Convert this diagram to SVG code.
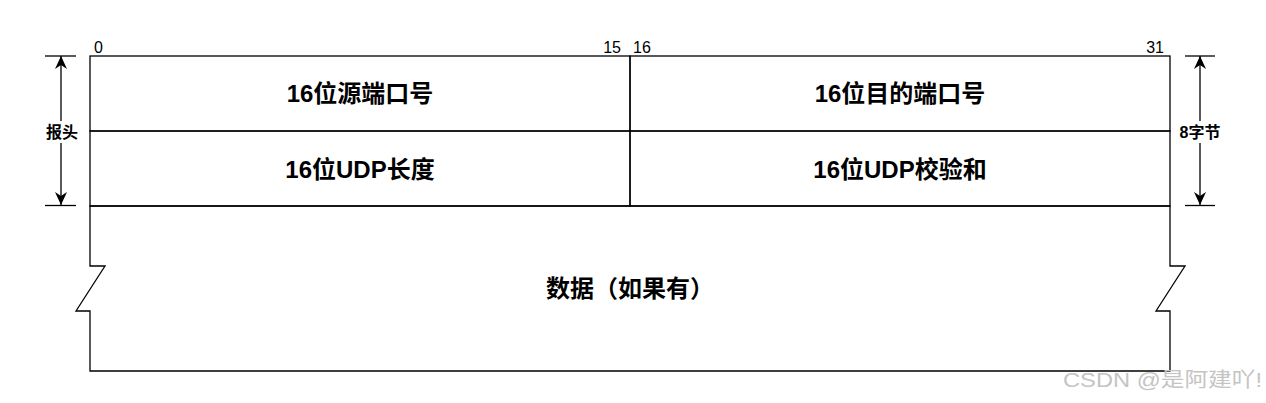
<svg xmlns="http://www.w3.org/2000/svg" width="1266" height="403" viewBox="0 0 1266 403">
<style>
.cell{fill:none;stroke:#000;stroke-width:1.3}
.ln{fill:none;stroke:#000;stroke-width:1.3}
.big{font-family:"Liberation Sans","Noto Sans CJK SC",sans-serif;font-weight:bold;font-size:24px;fill:#000;text-anchor:middle}
.mid{font-family:"Liberation Sans","Noto Sans CJK SC",sans-serif;font-weight:bold;font-size:16px;fill:#000;text-anchor:middle}
.num{font-family:"Liberation Sans","Noto Sans CJK SC",sans-serif;font-size:16px;fill:#000}
.wm{font-family:"Liberation Sans","Noto Sans CJK SC",sans-serif;font-size:20px;fill:#c4c4c4}
</style>
<defs>
<marker id="arr" viewBox="-14 -7 15 14" refX="0" refY="0" markerWidth="15" markerHeight="14" markerUnits="userSpaceOnUse" orient="auto-start-reverse">
<path d="M0,0 L-13,-6 L-9,0 L-13,6 Z" fill="#000"/>
</marker>
</defs>
<rect width="1266" height="403" fill="#fff"/>

<g id="src-port">
<rect class="cell" x="90" y="56" width="540" height="75"/>
<text class="big" x="360" y="102">16位源端口号</text>
</g>
<g id="dst-port">
<rect class="cell" x="630" y="56" width="540" height="75"/>
<text class="big" x="900" y="102">16位目的端口号</text>
</g>
<g id="udp-len">
<rect class="cell" x="90" y="131" width="540" height="75"/>
<text class="big" x="360" y="178">16位UDP长度</text>
</g>
<g id="udp-sum">
<rect class="cell" x="630" y="131" width="540" height="75"/>
<text class="big" x="900" y="178">16位UDP校验和</text>
</g>
<g id="data">
<path class="cell" d="M90,206 L90,266 L105,266 L76,311 L90,311 L90,371 L1170,371 L1170,311 L1156,311 L1185,266 L1170,266 L1170,206 Z"/>
<text class="big" x="630" y="297">数据（如果有）</text>
</g>

<g id="bit-labels">
<text class="num" x="94" y="53">0</text>
<text class="num" x="621" y="53" text-anchor="end">15</text>
<text class="num" x="633" y="53">16</text>
<text class="num" x="1164" y="53" text-anchor="end">31</text>
</g>

<g id="connectors">
<line class="ln" x1="45" y1="56" x2="76" y2="56"/>
<line class="ln" x1="45" y1="205.5" x2="76" y2="205.5"/>
<line class="ln" x1="61" y1="56" x2="61" y2="205" marker-start="url(#arr)" marker-end="url(#arr)"/>
<line class="ln" x1="1185" y1="56" x2="1215" y2="56"/>
<line class="ln" x1="1185" y1="205.5" x2="1215" y2="205.5"/>
<line class="ln" x1="1200" y1="56" x2="1200" y2="205" marker-start="url(#arr)" marker-end="url(#arr)"/>
</g>

<g id="header-label">
<rect x="45" y="121" width="34" height="22" fill="#fff"/>
<text class="mid" x="62" y="138">报头</text>
</g>
<g id="size-label">
<rect x="1179" y="121" width="42" height="22" fill="#fff"/>
<text class="mid" x="1200" y="138">8字节</text>
</g>

<text class="wm" x="1063" y="387" textLength="199" lengthAdjust="spacingAndGlyphs">CSDN @是阿建吖!</text>
</svg>
